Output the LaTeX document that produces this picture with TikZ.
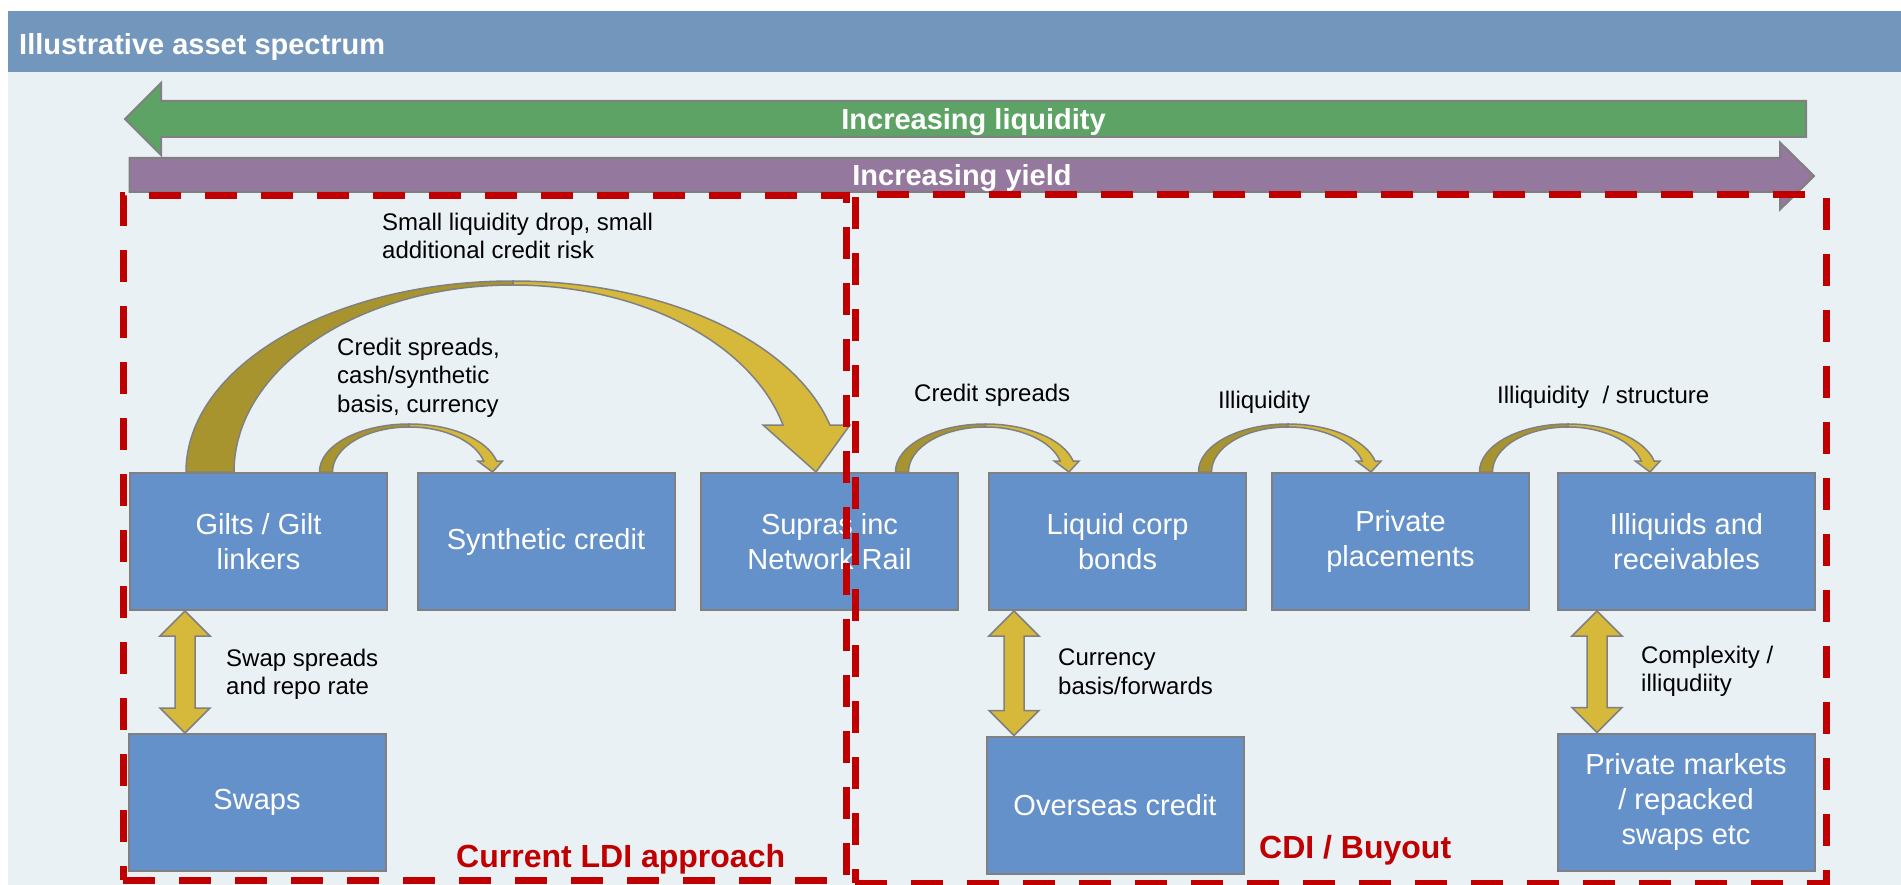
\documentclass[tikz,border=0pt]{standalone}
\usepackage{fontspec}
\setmainfont{Liberation Sans}
\usetikzlibrary{calc}

\definecolor{headblue}{RGB}{115,150,189}
\definecolor{panel}{RGB}{233,241,245}
\definecolor{liqgreen}{RGB}{93,163,101}
\definecolor{yieldpurple}{RGB}{149,120,158}
\definecolor{boxblue}{RGB}{101,145,203}
\definecolor{goldlight}{RGB}{214,185,58}
\definecolor{golddark}{RGB}{168,148,46}
\definecolor{edgegrey}{RGB}{128,128,128}
\definecolor{ldired}{RGB}{192,0,0}

% #1 from, #2 tip, #3 rise, #4 band width, #5 gap at top, #6 head length, #7 head overhang
\newcommand\hoparrow[7]{%
  \filldraw[hopback] let \p1=(#1), \p2=(#2), \n1={(\x2-\x1)/2} in
    (\p1) ++(-#4/2,0) arc[start angle=180, end angle=90, x radius={(\n1+#4/2)*1pt}, y radius={#3*1pt}]
    -- ++(0,#5) arc[start angle=90, end angle=180, x radius={(\n1-#4/2)*1pt}, y radius={(#3-#5)*1pt}] -- cycle;
  \filldraw[hopfront] let \p1=(#1), \p2=(#2), \n1={(\x2-\x1)/2}, \n2={asin(#6/#3)}, \n3={asin(#6/(#3-#5))} in
    (\p1) ++(\n1,-#3) arc[start angle=90, end angle=\n2, x radius={(\n1+#4/2)*1pt}, y radius={#3*1pt}]
    -- ++(#7,0) -- (\p2)
    -- ({\x1+(\n1+(\n1-#4/2)*cos(\n3)-#7)*1pt}, {\y1+#6*1pt}) -- ++(#7,0)
    arc[start angle=\n3, end angle=90, x radius={(\n1-#4/2)*1pt}, y radius={(#3-#5)*1pt}] -- cycle;}

\begin{document}
\begin{tikzpicture}[x=1pt, y=-1pt,
    asset/.style={draw=edgegrey, line width=2pt, fill=boxblue, text=white, minimum width=257pt,
      minimum height=137pt, align=center, font=\fontsize{29}{35}\selectfont},
    lbl/.style={inner sep=0pt, anchor=north west, align=left, font=\fontsize{24}{28.5}\selectfont},
    band/.style={draw=edgegrey, line width=2pt},
    bandtext/.style={text=white, anchor=base, inner sep=0pt, font=\bfseries\fontsize{29}{35}\selectfont},
    zone/.style={draw=ldired, line width=7pt, dash pattern=on 32pt off 24pt},
    zonetext/.style={text=ldired, anchor=base west, inner sep=0pt, font=\bfseries\fontsize{32}{38}\selectfont},
    hopback/.style={fill=golddark, draw=edgegrey, line width=1.5pt},
    hopfront/.style={fill=goldlight, draw=edgegrey, line width=1.5pt},
    twoway/.style={fill=goldlight, draw=edgegrey, line width=1.5pt}]
  \useasboundingbox (0,0) rectangle (1901,885);

  \fill[panel] (8,72) rectangle (1901,885);
  \fill[headblue] (8,11) rectangle (1901,72);
  \node[anchor=base west, inner sep=0pt, text=white, font=\bfseries\fontsize{29}{35}\selectfont]
    (title) at (19,55) {Illustrative asset spectrum};

  \draw[band, fill=liqgreen] (125,119) -- (161,83) -- (161,101) -- (1806,101) -- (1806,137)
    -- (161,137) -- (161,155) -- cycle;
  \node[bandtext] (liqtext) at (973.5,130) {Increasing liquidity};
  \draw[band, fill=yieldpurple] (129.5,158) -- (1780,158) -- (1780,142.5) -- (1814,176)
    -- (1780,209.5) -- (1780,192) -- (129.5,192) -- cycle;
  \node[bandtext] (yieldtext) at (962,186) {Increasing yield};

  \node[asset] (gilts) at (258.5,541.5) {Gilts / Gilt\\linkers};
  \node[asset] (synth) at (546,541.5) {Synthetic credit};
  \node[asset] (supras) at (829.5,541.5) {Supras inc\\Network Rail};
  \node[asset] (liquid) at (1117.5,541.5) {Liquid corp\\bonds};
  \node[asset] (private) at (1400.5,541.5) {Private\\placements};
  \node[asset] (illiq) at (1686.5,541.5) {Illiquids and\\receivables};
  \node[asset] (swaps) at (257,802.5) {Swaps};
  \node[asset] (overseas) at (1115,805) {Overseas credit};
  \node[asset] (privmkt) at (1686,802) {Private markets\\/ repacked\\swaps etc};

  % ends of the curved hops
  \coordinate (a1) at ($(gilts.north west)+(81,0)$);
  \coordinate (a2) at ($(supras.north west)+(116,0)$);
  \coordinate (b1) at ($(gilts.north east)+(-62,0)$);
  \coordinate (b2) at ($(synth.north west)+(76,0)$);
  \coordinate (c1) at ($(supras.north east)+(-57,0)$);
  \coordinate (c2) at ($(liquid.north west)+(81,0)$);
  \coordinate (d1) at ($(liquid.north east)+(-42,0)$);
  \coordinate (d2) at ($(private.north west)+(100,0)$);
  \coordinate (e1) at ($(private.north east)+(-44,0)$);
  \coordinate (e2) at ($(illiq.north west)+(93,0)$);

  \hoparrow{a1}{a2}{191}{48}{4}{47}{20}
  \foreach \s/\t in {b1/b2, c1/c2, d1/d2, e1/e2} {
    \hoparrow{\s}{\t}{48}{13}{3}{11}{6}
  }

  % two-way arrows
  \coordinate (g1) at ($(gilts.south west)+(56,0)$);
  \coordinate (g2) at (g1 |- swaps.north);
  \coordinate (l1) at ($(liquid.south west)+(26,0)$);
  \coordinate (l2) at (l1 |- overseas.north);
  \coordinate (i1) at ($(illiq.south west)+(40,0)$);
  \coordinate (i2) at (i1 |- privmkt.north);
  \foreach \a/\b in {g1/g2, l1/l2, i1/i2} {
    \filldraw[twoway] (\a) -- ++(25,25) -- ++(-15,0) -- ($(\b)+(10,-25)$) -- ++(15,0) -- (\b)
      -- ++(-25,-25) -- ++(15,0) -- ($(\a)+(-10,25)$) -- ++(-15,0) -- cycle;
  }

  \node[lbl] (dropnote) at (382,212.7) {Small liquidity drop, small\\additional credit risk};
  \node[lbl] (synthnote) at (337,337.7) {Credit spreads,\\cash/synthetic\\basis, currency};
  \node[lbl] (spreadnote) at (914,383.7) {Credit spreads};
  \node[lbl] (illiqnote) at (1218,390.7) {Illiquidity};
  \node[lbl] (structnote) at (1497,385.7) {Illiquidity\ \ / structure};
  \node[lbl] (swapnote) at (226,648.7) {Swap spreads\\and repo rate};
  \node[lbl] (fxnote) at (1058,648.7) {Currency\\basis/forwards};
  \node[lbl] (complexnote) at (1641,645.7) {Complexity /\\illiqudiity};

  \node[zone, minimum width=723pt, minimum height=684pt] (ldi) at (484.5,538) {};
  \node[zone, minimum width=971pt, minimum height=688pt] (cdi) at (1340.5,539) {};
  \node[zonetext] (ldilbl) at (456,867) {Current LDI approach};
  \node[zonetext] (cdilbl) at (1259,858) {CDI / Buyout};
\end{tikzpicture}
\end{document}
